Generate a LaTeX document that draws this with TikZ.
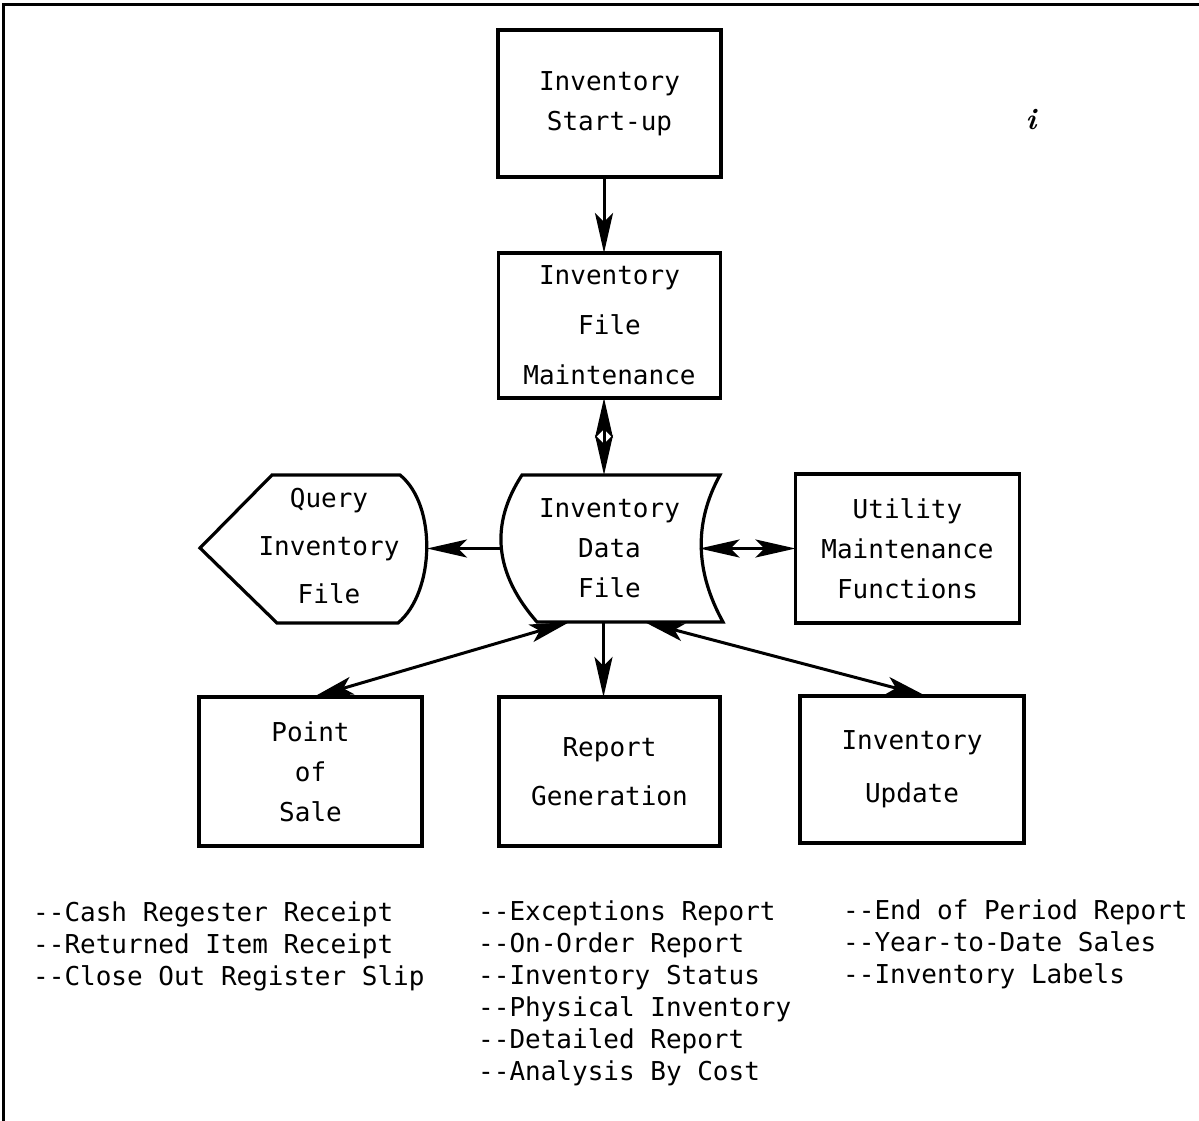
\documentclass[tikz,border=0pt]{standalone}
\usepackage{fontspec}
\setmonofont{DejaVu Sans Mono}
\usetikzlibrary{arrows.meta,positioning}

\begin{document}
\begin{tikzpicture}[x=1pt, y=-1pt,
  box/.style={rectangle, draw, line width=3.2pt, outer sep=0pt, align=center, inner sep=0pt, font=\ttfamily\fontsize{26}{40}\selectfont},
  txt/.style={align=center, outer sep=0pt, inner sep=0pt, font=\ttfamily\fontsize{26}{40}\selectfont},
  list/.style={align=left, anchor=north west, inner sep=0pt, font=\ttfamily\fontsize{26}{32}\selectfont},
  arr/.style={-{Stealth[length=40pt, width=18pt, inset=9pt]}, line width=3pt},
  dbl/.style={{Stealth[length=40pt, width=18pt, inset=9pt]}-{Stealth[length=40pt, width=18pt, inset=9pt]}, line width=3pt}
]
\useasboundingbox (0,0) rectangle (1199,1121);
\draw[line width=3pt] (3,1121) -- (3,5) -- (1199,5);

\node[box, minimum width=223pt, minimum height=147pt] (start) at (609.5,103.5) {Inventory\\Start-up};
\node[box, minimum width=222pt, minimum height=145pt, below=76pt of start] (maint) {Inventory\\[10pt]File\\[10pt]Maintenance};
\node[txt, minimum width=220pt, minimum height=147pt, below=77pt of maint] (data) {Inventory\\Data\\File};
\node[box, minimum width=224pt, minimum height=149pt, right=76pt of data] (util) {Utility\\Maintenance\\Functions};
\node[box, minimum width=221pt, minimum height=149pt, below=75pt of data] (report) {Report\\[9pt]Generation};
\node[box, minimum width=223pt, minimum height=149pt, left=77pt of report] (sale) {Point\\of\\Sale};
\node[box, minimum width=224pt, minimum height=147pt, right=80pt of report, yshift=2pt] (update) {Inventory\\[13pt]Update};
\node[txt] (query) at (329,546) {Query\\[8pt]Inventory\\[8pt]File};
\coordinate (qtip) at (427,548.5);

% data file and query outlines
\draw[line width=3.2pt] (522,475) -- (720,475) .. controls (693,524) and (696,573) .. (723,622)
  -- (537,622) .. controls (494,573) and (490,524) .. cycle;
\draw[line width=3.2pt] (200,548) -- (272,475) -- (400,475) .. controls (437,505) and (435,592) .. (398,623)
  -- (277,623) -- cycle;

\node[font=\fontsize{30}{30}\selectfont\bfseries\itshape] (mark) at (1031,120) {i};

\node[list] (saleout) at (33,902) {-{}-Cash Regester Receipt\\-{}-Returned Item Receipt\\-{}-Close Out Register Slip};
\node[list] (reportout) at (478,901) {-{}-Exceptions Report\\-{}-On-Order Report\\-{}-Inventory Status\\-{}-Physical Inventory\\-{}-Detailed Report\\-{}-Analysis By Cost};
\node[list] (updateout) at (843,900) {-{}-End of Period Report\\-{}-Year-to-Date Sales\\-{}-Inventory Labels};

\draw[arr] ([xshift=-5.5pt]start.south) -- ([xshift=-5.5pt]maint.north);
\draw[dbl] ([xshift=-5.5pt]maint.south) -- ([xshift=-5.5pt]data.north);
\draw[arr] (data.west) -- (qtip);
\draw[dbl] ([xshift=-20pt]data.east) -- (util.west);
\draw[dbl] ([xshift=-40pt]data.south) -- ([xshift=3pt]sale.north);
\draw[arr] ([xshift=-6pt]data.south) -- ([xshift=-6pt]report.north);
\draw[dbl] ([xshift=35pt]data.south) -- ([xshift=14pt]update.north);
\end{tikzpicture}
\end{document}
